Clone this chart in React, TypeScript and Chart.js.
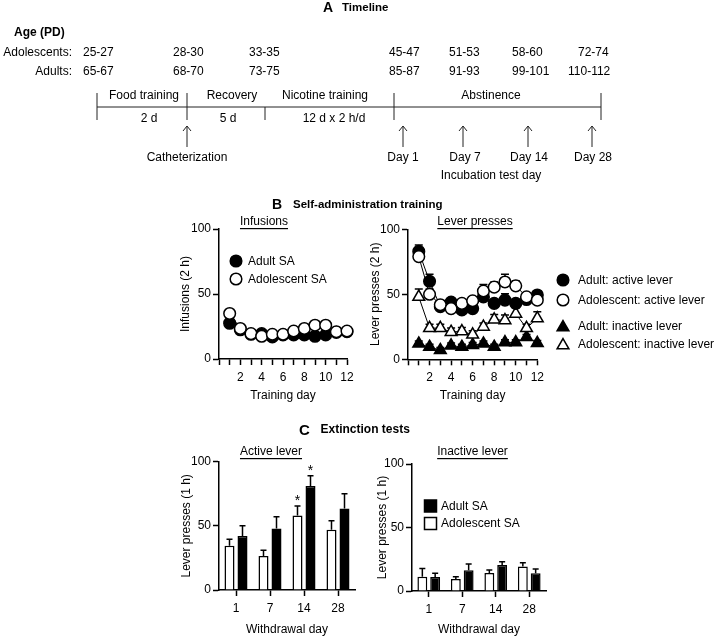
import React, { useEffect, useRef } from 'react';
import { Chart, registerables } from 'chart.js';

Chart.register(...registerables);

const FONT = '"Liberation Sans", Arial, Helvetica, sans-serif';
Chart.defaults.font.family = FONT;
Chart.defaults.font.size = 12;
Chart.defaults.color = '#000';

// ---------- Panel A: timeline ----------
const adolescentAges = ['25-27', '28-30', '33-35', '45-47', '51-53', '58-60', '72-74'];
const adultAges = ['65-67', '68-70', '73-75', '85-87', '91-93', '99-101', '110-112'];
const phases = ['Food training', 'Recovery', 'Nicotine training', 'Abstinence'];
const phaseDurations = ['2 d', '5 d', '12 d x 2 h/d'];
const testDays = ['Day 1', 'Day 7', 'Day 14', 'Day 28'];

// ---------- Panel B: self-administration training ----------
const trainingDays = [1, 2, 3, 4, 5, 6, 7, 8, 9, 10, 11, 12];
const infusionsAdult = [27.5, 22.5, 19, 19.5, 17, 18.5, 18.5, 18.5, 17.5, 18.5, 20.5, 21];
const infusionsAdolescent = [35, 23.5, 19.5, 17.5, 19, 19, 21.5, 23.5, 26, 26, 21, 21.5];

const activeAdult = [83, 60, 40.5, 44, 38, 39, 48, 43, 45.5, 43, 46, 49.5];
const activeAdultSem = [5, 5.5, 3, 3, 3, 3, 4, 3, 5, 3, 3, 3];
const activeAdolescent = [79, 50, 42, 39, 43, 45, 52.5, 55.5, 59.5, 56.5, 48, 45.5];
const activeAdolescentSem = [4, 4, 3, 3, 3, 3, 5, 4, 6, 4, 3, 3];
const inactiveAdult = [12, 9.5, 7, 10.5, 9.5, 11, 12, 9.5, 13, 13, 17, 12.5];
const inactiveAdultSem = [2, 2, 2, 2, 2, 2, 2, 2, 2, 2, 2, 2];
const inactiveAdolescent = [48, 24, 24, 21, 21.5, 19, 25, 30.5, 30, 35, 24, 31.5];
const inactiveAdolescentSem = [6, 3, 3, 3, 3, 3, 3, 4, 4, 4.5, 3, 5];

// ---------- Panel C: extinction tests ----------
const withdrawalDays = ['1', '7', '14', '28'];
const activeAdolescentC = [34.5, 26.5, 58, 47];
const activeAdolescentCSem = [5, 4.5, 7.5, 7];
const activeAdultC = [42, 48, 81, 63.5];
const activeAdultCSem = [8, 9, 8, 11.5];
const activeStarsAdolescent = ['', '', '*', ''];
const activeStarsAdult = ['', '', '*', ''];
const inactiveAdolescentC = [11.3, 9.5, 14.2, 19.3];
const inactiveAdolescentCSem = [6.5, 1.8, 2.4, 3];
const inactiveAdultC = [11, 16.3, 20.5, 14];
const inactiveAdultCSem = [3, 5, 2.5, 3.3];

// ---------- helpers ----------
type Box = { left: number; top: number; width: number; height: number };
type Frame = { left: number; right: number; top: number; bottom: number };

function drawMarker(ctx: CanvasRenderingContext2D, style: string, x: number, y: number, size: number, filled: boolean) {
  ctx.beginPath();
  if (style === 'circle') {
    ctx.arc(x, y, size, 0, Math.PI * 2);
  } else if (style === 'triangle') {
    ctx.moveTo(x, y - size);
    ctx.lineTo(x + size * 0.866, y + size * 0.5);
    ctx.lineTo(x - size * 0.866, y + size * 0.5);
    ctx.closePath();
  } else {
    ctx.rect(x - size, y - size, size * 2, size * 2);
  }
  ctx.fillStyle = filled ? '#000' : '#fff';
  ctx.fill();
  ctx.lineWidth = 1.5;
  ctx.strokeStyle = '#000';
  ctx.stroke();
}

function makeErrorPlugin(layer: 'before' | 'after', cap: number) {
  const draw = (chart: any) => {
    const ctx = chart.ctx as CanvasRenderingContext2D;
    const yScale = chart.scales.y;
    ctx.save();
    ctx.strokeStyle = '#000';
    ctx.lineWidth = 1.5;
    chart.data.datasets.forEach((ds: any, i: number) => {
      const sem = ds.errorBars;
      if (!sem) return;
      const meta = chart.getDatasetMeta(i);
      meta.data.forEach((el: any, j: number) => {
        const raw = ds.data[j];
        const v = typeof raw === 'number' ? raw : raw.y;
        const e = sem[j];
        const yv = yScale.getPixelForValue(v);
        const yt = yScale.getPixelForValue(v + (e || 0));
        if (e) {
          ctx.beginPath();
          ctx.moveTo(el.x, yv);
          ctx.lineTo(el.x, yt);
          ctx.moveTo(el.x - cap, yt);
          ctx.lineTo(el.x + cap, yt);
          ctx.stroke();
        }
        if (ds.stars && ds.stars[j]) {
          ctx.fillStyle = '#000';
          ctx.font = `14px ${FONT}`;
          ctx.textAlign = 'center';
          ctx.textBaseline = 'alphabetic';
          ctx.fillText(ds.stars[j], el.x, yt - 1);
        }
      });
    });
    ctx.restore();
  };
  return {
    id: 'errorBars',
    beforeDatasetsDraw(chart: any) { if (layer === 'before') draw(chart); },
    afterDatasetsDraw(chart: any) { if (layer === 'after') draw(chart); },
  };
}

type LegendItem = { style: string; filled: boolean; size: number; x: number; y: number; textX: number; text: string };

function makeLegendPlugin(items: LegendItem[], box: Box) {
  return {
    id: 'markerLegend',
    afterDraw(chart: any) {
      const ctx = chart.ctx as CanvasRenderingContext2D;
      ctx.save();
      items.forEach((it) => {
        const x = it.x - box.left;
        const y = it.y - box.top;
        const my = it.style === 'triangle' ? y + it.size * 0.2 : y;
        drawMarker(ctx, it.style, x, my, it.size, it.filled);
        ctx.fillStyle = '#000';
        ctx.font = `12px ${FONT}`;
        ctx.textAlign = 'left';
        ctx.textBaseline = 'middle';
        ctx.fillText(it.text, it.textX - box.left, y + 0.5);
      });
      ctx.restore();
    },
  };
}

function axisStyle() {
  return {
    grid: { drawOnChartArea: false, drawTicks: true, tickLength: 6, tickColor: '#000', tickWidth: 1.5, color: '#000' },
    border: { display: true, color: '#000', width: 1.5 },
  };
}

function yScale(box: Box, frame: Frame, title: string) {
  return {
    min: 0,
    max: 100,
    afterFit: (s: any) => { s.width = frame.left - box.left; },
    ticks: { stepSize: 50, padding: 2, font: { size: 12 } },
    title: { display: true, text: title, padding: { top: 4, bottom: 4 }, font: { size: 12 } },
    ...axisStyle(),
  };
}

function layoutPadding(box: Box, frame: Frame) {
  return { left: 0, bottom: 0, top: frame.top - box.top, right: box.left + box.width - frame.right };
}

const pts = (ys: number[]) => trainingDays.map((d, i) => ({ x: d, y: ys[i] }));

function lineDataset(ys: number[], style: string, filled: boolean, order: number, sem?: number[]) {
  const r = style === 'triangle' ? 6.8 : 5.8;
  return {
    data: pts(ys),
    borderColor: '#000',
    borderWidth: 1,
    backgroundColor: filled ? '#000' : '#fff',
    pointStyle: style,
    pointRadius: r,
    pointBackgroundColor: filled ? '#000' : '#fff',
    pointBorderColor: '#000',
    pointBorderWidth: 1.5,
    fill: false,
    tension: 0,
    clip: false,
    order,
    errorBars: sem,
  };
}

function lineConfig(box: Box, frame: Frame, datasets: any[], yTitle: string, legend: LegendItem[]) {
  return {
    type: 'line',
    data: { datasets },
    options: {
      responsive: false,
      animation: false,
      events: [],
      layout: { padding: layoutPadding(box, frame) },
      plugins: { legend: { display: false }, tooltip: { enabled: false } },
      scales: {
        x: {
          type: 'linear',
          min: 0,
          max: 12,
          afterFit: (s: any) => { s.height = box.top + box.height - frame.bottom; },
          ticks: {
            stepSize: 1,
            autoSkip: false,
            maxRotation: 0,
            padding: 5,
            font: { size: 12 },
            callback: (v: any) => (Number(v) > 0 && Number(v) % 2 === 0 ? String(v) : ''),
          },
          title: { display: true, text: 'Training day', padding: { top: 4, bottom: 4 }, font: { size: 12 } },
          ...axisStyle(),
        },
        y: yScale(box, frame, yTitle),
      },
    },
    plugins: [makeErrorPlugin('before', 4), makeLegendPlugin(legend, box)],
  };
}

function barDataset(label: string, data: number[], filled: boolean, sem: number[], stars?: string[]) {
  return {
    label,
    data,
    backgroundColor: filled ? '#000' : '#fff',
    borderColor: '#000',
    borderWidth: 1.5,
    categoryPercentage: 0.765,
    barPercentage: 0.77,
    errorBars: sem,
    stars,
  };
}

function barConfig(box: Box, frame: Frame, datasets: any[], legend: LegendItem[]) {
  return {
    type: 'bar',
    data: { labels: withdrawalDays, datasets },
    options: {
      responsive: false,
      animation: false,
      events: [],
      layout: { padding: layoutPadding(box, frame) },
      plugins: { legend: { display: false }, tooltip: { enabled: false } },
      scales: {
        x: {
          type: 'category',
          offset: true,
          afterFit: (s: any) => { s.height = box.top + box.height - frame.bottom; },
          ticks: { padding: 5, maxRotation: 0, autoSkip: false, font: { size: 12 } },
          title: { display: true, text: 'Withdrawal day', padding: { top: 4, bottom: 1 }, font: { size: 12 } },
          ...axisStyle(),
          grid: { ...axisStyle().grid, offset: false },
        },
        y: yScale(box, frame, 'Lever presses (1 h)'),
      },
    },
    plugins: [makeErrorPlugin('after', 3), makeLegendPlugin(legend, box)],
  };
}

// ---------- chart boxes ----------
const INF_BOX: Box = { left: 174, top: 200, width: 186, height: 207 };
const INF_FRAME: Frame = { left: 219, right: 347, top: 229, bottom: 359 };
const LEV_BOX: Box = { left: 364, top: 200, width: 356, height: 207 };
const LEV_FRAME: Frame = { left: 408, right: 537.3, top: 229.3, bottom: 359.3 };
const ACT_BOX: Box = { left: 175, top: 440, width: 190, height: 198 };
const ACT_FRAME: Frame = { left: 219, right: 355, top: 461.7, bottom: 590 };
const INA_BOX: Box = { left: 371, top: 440, width: 220, height: 198 };
const INA_FRAME: Frame = { left: 412, right: 546, top: 464, bottom: 591 };

function buildInfusions() {
  return lineConfig(
    INF_BOX,
    INF_FRAME,
    [
      lineDataset(infusionsAdolescent, 'circle', false, 0),
      lineDataset(infusionsAdult, 'circle', true, 1),
    ],
    'Infusions (2 h)',
    [
      { style: 'circle', filled: true, size: 5.8, x: 236, y: 261, textX: 248, text: 'Adult SA' },
      { style: 'circle', filled: false, size: 5.8, x: 236, y: 279, textX: 248, text: 'Adolescent SA' },
    ]
  );
}

function buildLever() {
  return lineConfig(
    LEV_BOX,
    LEV_FRAME,
    [
      lineDataset(activeAdolescent, 'circle', false, 0, activeAdolescentSem),
      lineDataset(activeAdult, 'circle', true, 1, activeAdultSem),
      lineDataset(inactiveAdolescent, 'triangle', false, 2, inactiveAdolescentSem),
      lineDataset(inactiveAdult, 'triangle', true, 3, inactiveAdultSem),
    ],
    'Lever presses (2 h)',
    [
      { style: 'circle', filled: true, size: 5.8, x: 563, y: 280, textX: 578, text: 'Adult: active lever' },
      { style: 'circle', filled: false, size: 5.8, x: 563, y: 300, textX: 578, text: 'Adolescent: active lever' },
      { style: 'triangle', filled: true, size: 6.8, x: 563, y: 326, textX: 578, text: 'Adult: inactive lever' },
      { style: 'triangle', filled: false, size: 6.8, x: 563, y: 344, textX: 578, text: 'Adolescent: inactive lever' },
    ]
  );
}

function buildActive() {
  return barConfig(
    ACT_BOX,
    ACT_FRAME,
    [
      barDataset('Adolescent SA', activeAdolescentC, false, activeAdolescentCSem, activeStarsAdolescent),
      barDataset('Adult SA', activeAdultC, true, activeAdultCSem, activeStarsAdult),
    ],
    []
  );
}

function buildInactive() {
  return barConfig(
    INA_BOX,
    INA_FRAME,
    [
      barDataset('Adolescent SA', inactiveAdolescentC, false, inactiveAdolescentCSem),
      barDataset('Adult SA', inactiveAdultC, true, inactiveAdultCSem),
    ],
    [
      { style: 'rect', filled: true, size: 6, x: 430.5, y: 506, textX: 441, text: 'Adult SA' },
      { style: 'rect', filled: false, size: 6, x: 430.5, y: 523.5, textX: 441, text: 'Adolescent SA' },
    ]
  );
}

function ChartCanvas({ box, build }: { box: Box; build: () => any }) {
  const ref = useRef<HTMLCanvasElement | null>(null);
  useEffect(() => {
    if (!ref.current) return;
    const chart = new Chart(ref.current, build());
    return () => chart.destroy();
  }, []);
  return (
    <canvas
      ref={ref}
      width={box.width}
      height={box.height}
      style={{ position: 'absolute', left: box.left, top: box.top, width: box.width, height: box.height }}
    />
  );
}

// ---------- static overlay (timeline, headings) ----------
const adolescentAgeX = [83, 173, 249, 389, 449, 512, 578];
const adultAgeX = [83, 173, 249, 389, 449, 512, 568];
const phaseX = [144, 232, 325, 491];
const durationX = [149, 228, 334];
const testDayX = [403, 465, 529, 593];
const arrowX = [403, 463, 528, 592];

function Arrow({ x }: { x: number }) {
  return (
    <g stroke="#222" strokeWidth={1} fill="none">
      <line x1={x} y1={147} x2={x} y2={126} />
      <polyline points={`${x - 4},${131} ${x},${126} ${x + 4},${131}`} />
    </g>
  );
}

function Overlay() {
  const T = (p: any) => <text dominantBaseline="central" fontSize={12} fill="#000" {...p} />;
  return (
    <svg
      width={720}
      height={638}
      style={{ position: 'absolute', left: 0, top: 0, pointerEvents: 'none' }}
      fontFamily={FONT}
    >
      <T x={328} y={7} fontSize={14} fontWeight="bold" textAnchor="middle">A</T>
      <T x={342} y={7} fontSize={11.5} fontWeight="bold">Timeline</T>
      <T x={14} y={32} fontWeight="bold">Age (PD)</T>
      <T x={72} y={52} textAnchor="end">Adolescents:</T>
      <T x={72} y={71} textAnchor="end">Adults:</T>
      {adolescentAges.map((a, i) => (
        <T key={'ad' + i} x={adolescentAgeX[i]} y={52}>{a}</T>
      ))}
      {adultAges.map((a, i) => (
        <T key={'au' + i} x={adultAgeX[i]} y={71}>{a}</T>
      ))}
      {phases.map((p, i) => (
        <T key={'ph' + i} x={phaseX[i]} y={95} textAnchor="middle">{p}</T>
      ))}
      <g stroke="#222" strokeWidth={1}>
        <line x1={97} y1={107} x2={601} y2={107} />
        <line x1={97} y1={93} x2={97} y2={120} />
        <line x1={187} y1={93} x2={187} y2={120} />
        <line x1={265} y1={107} x2={265} y2={120} />
        <line x1={394} y1={93} x2={394} y2={120} />
        <line x1={601} y1={93} x2={601} y2={120} />
      </g>
      {phaseDurations.map((d, i) => (
        <T key={'du' + i} x={durationX[i]} y={118} textAnchor="middle">{d}</T>
      ))}
      <Arrow x={187} />
      {arrowX.map((x, i) => (
        <Arrow key={'ar' + i} x={x} />
      ))}
      <T x={187} y={157} textAnchor="middle">Catheterization</T>
      {testDays.map((d, i) => (
        <T key={'td' + i} x={testDayX[i]} y={157} textAnchor="middle">{d}</T>
      ))}
      <T x={491} y={175} textAnchor="middle">Incubation test day</T>

      <T x={277} y={204} fontSize={14} fontWeight="bold" textAnchor="middle">B</T>
      <T x={293} y={204} fontSize={11.5} fontWeight="bold">Self-administration training</T>
      <T x={264} y={221} textAnchor="middle" style={{ textDecoration: 'underline' }}>Infusions</T>
      <T x={475} y={221} textAnchor="middle" style={{ textDecoration: 'underline' }}>Lever presses</T>

      <T x={304.5} y={429} fontSize={15} fontWeight="bold" textAnchor="middle">C</T>
      <T x={320.5} y={429} fontSize={12} fontWeight="bold">Extinction tests</T>
      <T x={271} y={451} textAnchor="middle" style={{ textDecoration: 'underline' }}>Active lever</T>
      <T x={472.5} y={451} textAnchor="middle" style={{ textDecoration: 'underline' }}>Inactive lever</T>
    </svg>
  );
}

export default function App() {
  return (
    <div
      style={{
        position: 'absolute',
        left: 0,
        top: 0,
        width: 720,
        height: 638,
        background: '#fff',
        overflow: 'hidden',
        fontFamily: FONT,
      }}
    >
      <ChartCanvas box={INF_BOX} build={buildInfusions} />
      <ChartCanvas box={LEV_BOX} build={buildLever} />
      <ChartCanvas box={ACT_BOX} build={buildActive} />
      <ChartCanvas box={INA_BOX} build={buildInactive} />
      <Overlay />
    </div>
  );
}
